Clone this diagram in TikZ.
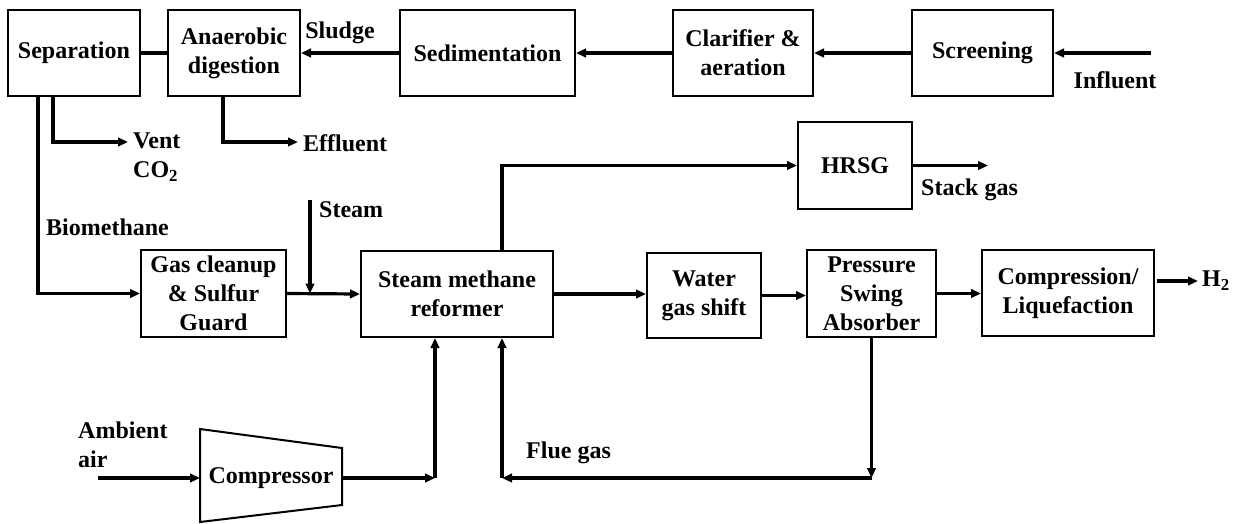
\documentclass[tikz,border=0pt]{standalone}
\usepackage{fontspec}
\setmainfont{Liberation Serif}
\usetikzlibrary{arrows.meta}
\tikzset{
  box/.style={draw, line width=2pt, align=center, inner sep=0pt, font=\fontsize{24}{29}\selectfont\bfseries},
  lbl/.style={inner sep=0pt, align=left, font=\fontsize{24}{29}\selectfont\bfseries},
  conn/.style={line width=3.2pt},
  arr/.style={conn, -{Triangle[length=10pt,width=8.5pt]}},
}
\begin{document}
\begin{tikzpicture}[x=1pt,y=-1pt]
\useasboundingbox (0,0) rectangle (1239,523);
% top row
\node[box, minimum width=132pt, minimum height=86pt] (sep) at (74,53) {Separation};
\node[box, minimum width=132pt, minimum height=86pt] (ad) at (234,53) {Anaerobic\\digestion};
\node[box, minimum width=175pt, minimum height=86pt] (sed) at (487.5,53) {Sedimentation};
\node[box, minimum width=140pt, minimum height=86pt] (clar) at (743,53) {Clarifier \&\\aeration};
\node[box, minimum width=141pt, minimum height=86pt] (scr) at (982.5,53) {Screening};
% middle
\node[box, minimum width=114pt, minimum height=87pt] (hrsg) at (855,165.5) {HRSG};
\node[box, minimum width=145pt, minimum height=87pt] (gc) at (213.5,293.5) {Gas cleanup\\\& Sulfur\\Guard};
\node[box, minimum width=192pt, minimum height=86pt] (smr) at (457,294) {Steam methane\\reformer};
\node[box, minimum width=114pt, minimum height=85pt] (wgs) at (704,295.5) {Water\\gas shift};
\node[box, minimum width=129pt, minimum height=87pt] (psa) at (871.5,293.5) {Pressure\\Swing\\Absorber};
\node[box, minimum width=172pt, minimum height=86pt] (comp) at (1068,293) {Compression/\\Liquefaction};
% compressor trapezoid
\draw[line width=2pt] (200,429) -- (342,448) -- (342,505) -- (200,522) -- cycle;
\node[lbl] (cmpr) at (271,478) {Compressor};
\coordinate (cl) at (200,478);
\coordinate (cr) at (342,478);
% coordinates
\coordinate (infl) at (1151,53);
\coordinate (vent) at (128,142);
\coordinate (effl) at (298,142);
\coordinate (stm) at (310,200);
\coordinate (stack) at (988,165.5);
\coordinate (h2) at (1198,281);
\coordinate (fg) at (502,478);
\coordinate (ca) at (435,478);
\coordinate (amb) at (98,478);
% top connectors
\draw[conn] (sep.east) -- (ad.west);
\draw[arr] (sed.west) -- (ad.east);
\draw[arr] (clar.west) -- (sed.east);
\draw[arr] (scr.west) -- (clar.east);
\draw[arr] (infl) -- (scr.east);
\draw[arr] ([xshift=-36pt]sep.south) |- (gc.west);
\draw[arr] ([xshift=-21pt]sep.south) |- (vent);
\draw[arr] ([xshift=-11pt]ad.south) |- (effl);
% middle connectors
\draw[arr] (stm) -- (stm |- gc.east);
\draw[arr] (gc.east) -- (smr.west);
\draw[arr] ([xshift=45pt]smr.north) |- (hrsg.west);
\draw[arr] (hrsg.east) -- (stack);
\draw[arr] (smr.east) -- (smr.east -| wgs.west);
\draw[arr] (wgs.east) -- (wgs.east -| psa.west);
\draw[arr] (psa.east) -- (psa.east -| comp.west);
\draw[arr] (comp.east |- h2) ++(2,0) -- (h2);
% flue gas loop
\draw[arr] (psa.south) -- (psa.south |- fg);
\draw[arr] (psa.south |- fg) -- (fg);
\draw[arr] (fg) -- (fg |- smr.south);
% compressor
\draw[arr] (amb) -- (cl);
\draw[arr] (cr) -- (ca);
\draw[arr] (ca) -- (ca |- smr.south);
% labels
\node[lbl] (lsludge) at (340,33) {Sludge};
\node[lbl, anchor=west] (lvent) at (133,157.5) {Vent\\CO$_\mathbf{2}$};
\node[lbl, anchor=west] (leffl) at (303,143) {Effluent};
\node[lbl] (linfl) at (1115,80) {Influent};
\node[lbl, anchor=west] (lbio) at (46,227) {Biomethane};
\node[lbl, anchor=west] (lsteam) at (319,210) {Steam};
\node[lbl, anchor=west] (lstack) at (921,190) {Stack gas};
\node[lbl, anchor=west] (lflue) at (526,453) {Flue gas};
\node[lbl, anchor=west] (lamb) at (78,445) {Ambient\\air};
\node[lbl, anchor=west] (lh2) at (1202,281) {H$_\mathbf{2}$};
\end{tikzpicture}
\end{document}
